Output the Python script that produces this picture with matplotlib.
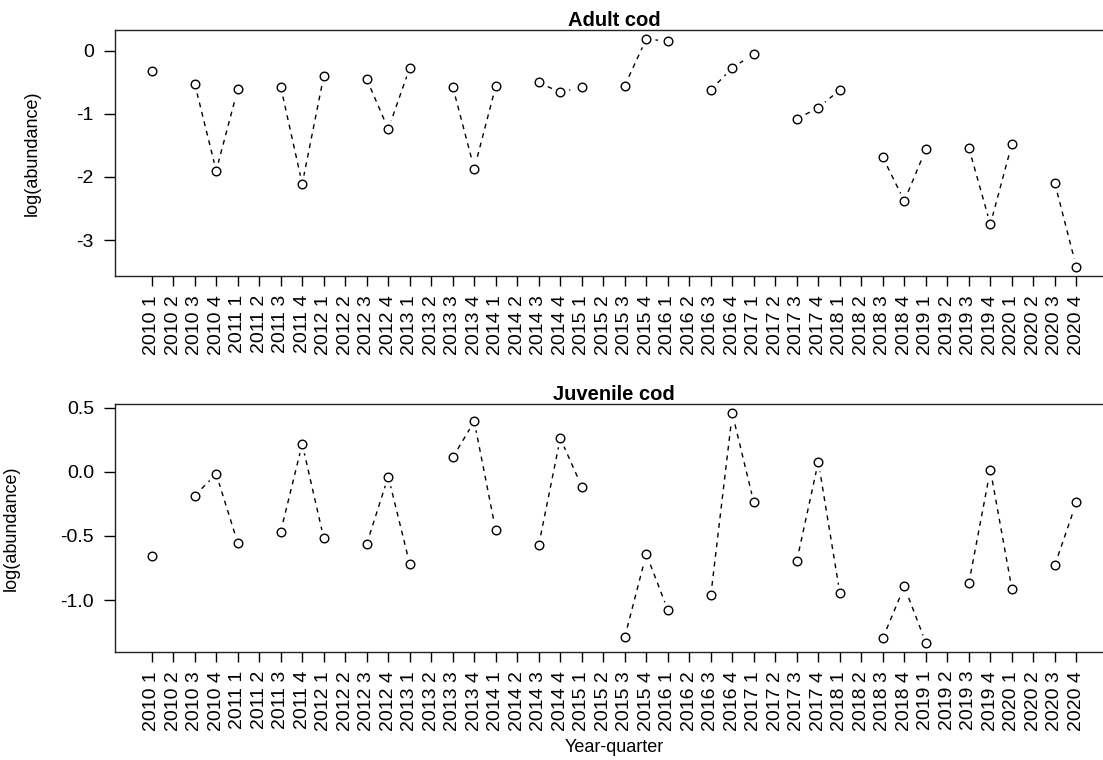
import numpy as np
from matplotlib import pyplot as plt
from matplotlib.ticker import FormatStrFormatter, MultipleLocator

plt.rcParams['font.family'] = ['Liberation Sans', 'DejaVu Sans']
plt.rcParams['axes.unicode_minus'] = False

years = list(range(2010, 2021))
quarters = [1, 2, 3, 4]
quarter_labels = [f"{y} {q}" for y in years for q in quarters]

nan = np.nan
# log(abundance), one value per year-quarter; nan = no survey that quarter
adult_cod = [-0.32, nan, -0.52, -1.90,
             -0.61, nan, -0.57, -2.11,
             -0.40, nan, -0.45, -1.24,
             -0.27, nan, -0.57, -1.87,
             -0.56, nan, -0.50, -0.66,
             -0.57, nan, -0.55, 0.19,
             0.15, nan, -0.62, -0.27,
             -0.05, nan, -1.08, -0.90,
             -0.62, nan, -1.69, -2.38,
             -1.56, nan, -1.54, -2.75,
             -1.48, nan, -2.10, -3.43]
juvenile_cod = [-0.655, nan, -0.185, -0.018,
                -0.553, nan, -0.465, 0.217,
                -0.517, nan, -0.561, -0.037,
                -0.718, nan, 0.112, 0.392,
                -0.457, nan, -0.569, 0.261,
                -0.115, nan, -1.287, -0.640,
                -1.076, nan, -0.963, 0.454,
                -0.238, nan, -0.692, 0.078,
                -0.945, nan, -1.295, -0.893,
                -1.332, nan, -0.867, 0.016,
                -0.911, nan, -0.726, -0.238]


def r_limits(values):
    # R base graphics pads the data range by 4% on each side
    lo, hi = np.nanmin(values), np.nanmax(values)
    pad = 0.04 * (hi - lo)
    return lo - pad, hi + pad


def draw_panel(ax, values, title, yfmt, ystep):
    x = np.arange(len(quarter_labels))
    y = np.array(values, dtype=float)
    # type = "b": dashed line with gaps around the points
    ax.plot(x, y, color='black', lw=1, dashes=(3.5, 3.5), zorder=1)
    ax.plot(x, y, 'o', ms=13, mfc='white', mec='none', zorder=2)
    ax.plot(x, y, 'o', ms=6.2, mfc='white', mec='black', mew=1, zorder=3)

    ax.set_xlim(r_limits(x))
    ax.set_ylim(r_limits(y))
    ax.set_xticks(x)
    ax.set_xticklabels(quarter_labels, rotation=90, fontsize=14)
    ax.yaxis.set_major_locator(MultipleLocator(ystep))
    ax.yaxis.set_major_formatter(FormatStrFormatter(yfmt))
    ax.tick_params(axis='y', labelsize=14, length=8, width=1, pad=7)
    ax.tick_params(axis='x', length=7.5, width=1, pad=6)
    ax.set_ylabel('log(abundance)', fontsize=13)
    ax.set_title(title, fontsize=14.5, fontweight='bold', pad=1)
    for s in ax.spines.values():
        s.set_linewidth(1)
        s.set_color('#222222')


def main():
    fig = plt.figure(figsize=(11.03, 7.6), dpi=100)
    ax1 = fig.add_axes([0.104, 0.6364, 0.9054, 0.3245])
    ax2 = fig.add_axes([0.104, 0.1421, 0.9054, 0.3259])

    draw_panel(ax1, adult_cod, 'Adult cod', '%d', 1)
    draw_panel(ax2, juvenile_cod, 'Juvenile cod', '%.1f', 0.5)
    ax1.yaxis.set_label_coords(-0.0738, 0.5)
    ax2.yaxis.set_label_coords(-0.0948, 0.5)

    fig.text(614 / 1103, 1 - 748 / 760, 'Year-quarter', fontsize=13,
             ha='center', va='center')
    fig.savefig('out.png', dpi=100)


if __name__ == '__main__':
    main()
